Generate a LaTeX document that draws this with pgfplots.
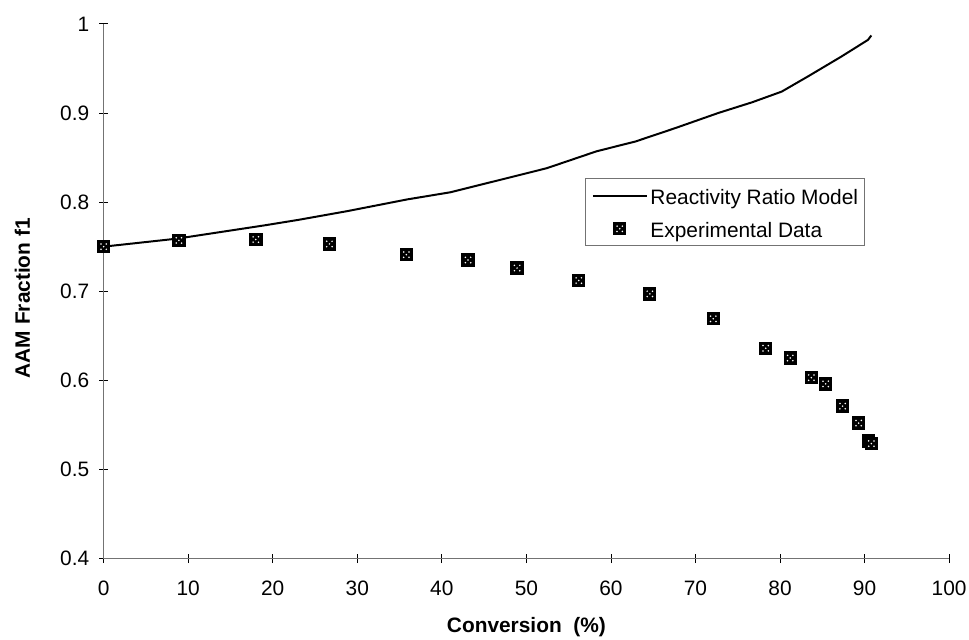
\documentclass[border=0pt]{standalone}
\usepackage{pgfplots}
\pgfplotsset{compat=1.18}
\usepackage{fontspec}
\setmainfont{Liberation Sans}
\usetikzlibrary{plotmarks}

\pgfdeclareplotmark{dsq}{%
  \begin{pgfscope}%
  \pgfsetfillcolor{black}%
  \pgfpathrectangle{\pgfpoint{-\pgfplotmarksize}{-\pgfplotmarksize}}{\pgfpoint{2\pgfplotmarksize}{2\pgfplotmarksize}}%
  \pgfusepath{fill}%
  \pgfsetfillcolor{white}%
  \pgfpathcircle{\pgfpoint{-0.4\pgfplotmarksize}{0.4\pgfplotmarksize}}{0.13\pgfplotmarksize}%
  \pgfpathcircle{\pgfpoint{0.4\pgfplotmarksize}{0.4\pgfplotmarksize}}{0.13\pgfplotmarksize}%
  \pgfpathcircle{\pgfpoint{0pt}{0pt}}{0.13\pgfplotmarksize}%
  \pgfpathcircle{\pgfpoint{-0.4\pgfplotmarksize}{-0.4\pgfplotmarksize}}{0.13\pgfplotmarksize}%
  \pgfpathcircle{\pgfpoint{0.4\pgfplotmarksize}{-0.4\pgfplotmarksize}}{0.13\pgfplotmarksize}%
  \pgfusepath{fill}%
  \end{pgfscope}%
}

\begin{document}
\begin{tikzpicture}
\useasboundingbox (0,0) rectangle (487.5pt,321.5pt);
\begin{axis}[
  at={(52.15pt,40.5pt)}, anchor=south west,
  scale only axis, width=425.35pt, height=269pt,
  xmin=0, xmax=100, ymin=0.4, ymax=1,
  xtick={0,10,20,30,40,50,60,70,80,90,100},
  ytick={0.4,0.5,0.6,0.7,0.8,0.9,1},
  axis x line=bottom, axis y line=left,
  axis line style={-, black!55, line width=0.6pt},
  tick align=center, major tick length=4.5pt,
  every tick/.style={black, line width=0.4pt},
  tick label style={font=\fontsize{10.5}{12}\selectfont},
  /pgf/number format/assume math mode=true,
  xticklabel style={yshift=-5.5pt},
  yticklabel style={xshift=-1.5pt},
  label style={font=\bfseries\fontsize{10.5}{12}\selectfont},
  xlabel={Conversion~~(\%)},
  ylabel={AAM Fraction f1},
  x label style={at={(axis description cs:0.5,0)}, anchor=base, yshift=-37.4pt},
  y label style={at={(axis description cs:-0.0962,0.487)}, anchor=center},
  clip=false,
  legend cell align=left,
  legend style={at={(axis description cs:0.5698,0.7119)}, anchor=north west,
    draw=black!55, line width=0.5pt, fill=white,
    inner xsep=3pt, inner ysep=1pt, row sep=1.4pt, column sep=1.5pt,
    font=\fontsize{10.5}{12}\selectfont,
    nodes={inner sep=0pt, text height=12.26pt, text depth=3.04pt}},
]
\addplot[black, line width=1pt,
  legend image code/.code={\draw[black, line width=1pt] (0pt,0pt) -- (27pt,0pt);}]
  table {
x y
0 0.750
8.7 0.759
19.1 0.774
23.0 0.780
28.9 0.790
35.9 0.803
41.0 0.811
46.5 0.824
52.4 0.838
58.3 0.857
62.9 0.868
67.6 0.883
72.7 0.900
76.7 0.912
80.2 0.924
83.3 0.941
87.2 0.963
90.4 0.982
90.8 0.987
};
\addlegendentry{Reactivity Ratio Model}
\addplot[only marks, mark=dsq, mark size=3.35pt,
  legend image code/.code={\path plot[only marks, mark=dsq, mark size=3.35pt] coordinates {(13.5pt,0pt)};}]
  table {
x y
0 0.750
8.9 0.757
18.0 0.758
26.7 0.753
35.8 0.741
43.1 0.735
48.9 0.726
56.2 0.712
64.6 0.697
72.1 0.669
78.3 0.636
81.2 0.625
83.7 0.603
85.4 0.596
87.4 0.571
89.3 0.552
90.5 0.532
90.8 0.529
};
\addlegendentry{Experimental Data}
\end{axis}
\end{tikzpicture}
\end{document}
